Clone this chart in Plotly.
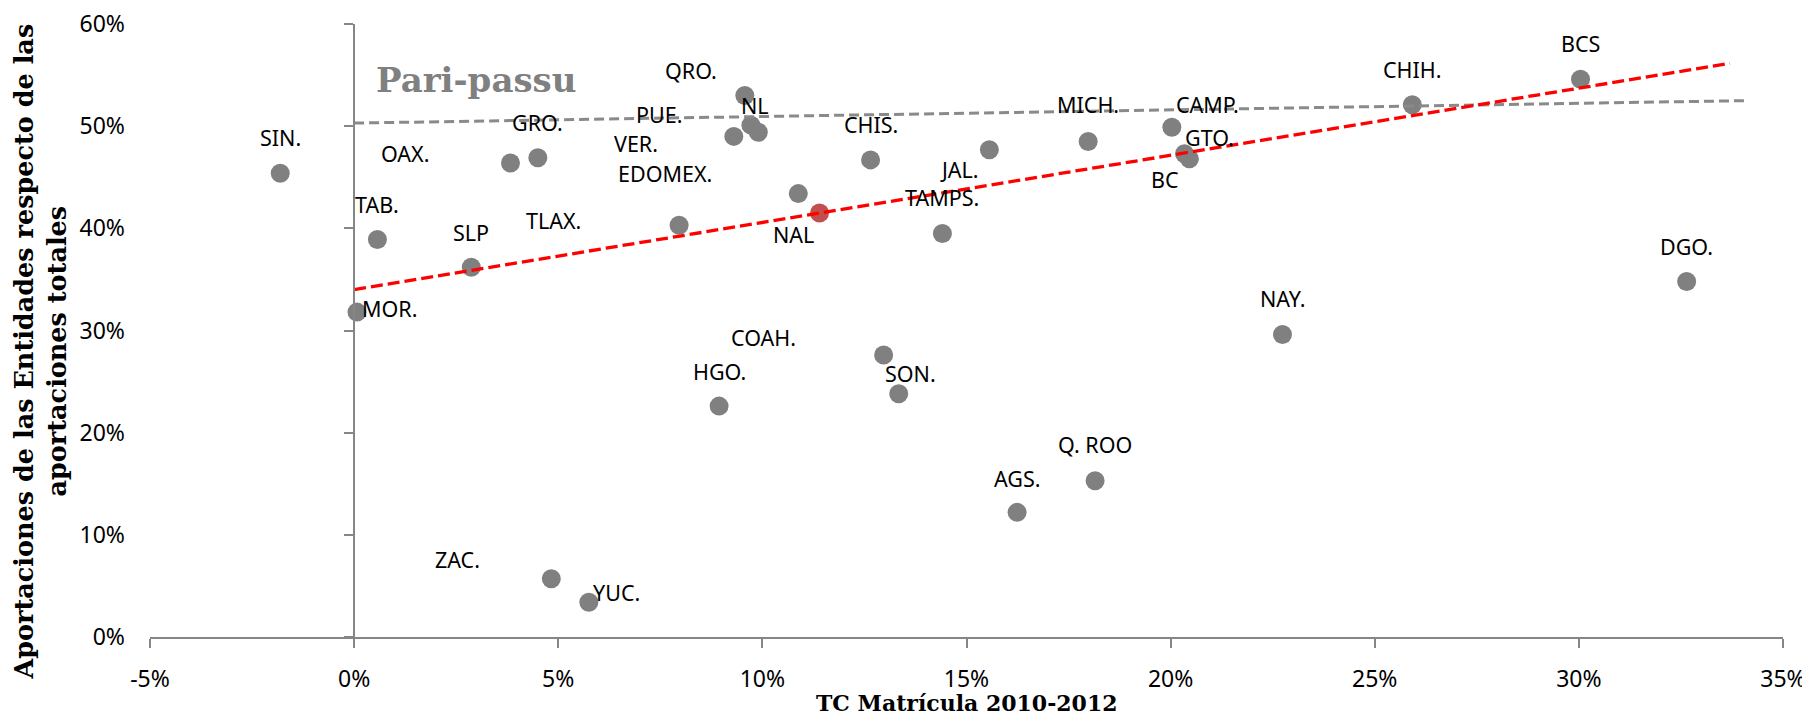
import plotly.graph_objects as go

# ---------------- data (values in %) ----------------
entidades = ["SIN.", "TAB.", "MOR.", "SLP", "OAX.", "GRO.", "ZAC.", "YUC.", "TLAX.", "HGO.",
             "PUE.", "QRO.", "NL", "VER.", "EDOMEX.", "CHIS.", "COAH.", "SON.", "TAMPS.", "JAL.",
             "AGS.", "MICH.", "Q. ROO", "CAMP.", "GTO.", "BC", "NAY.", "CHIH.", "BCS", "DGO."]
tc_matricula = [-1.81, 0.57, 0.07, 2.87, 3.83, 4.50, 4.83, 5.75, 7.96, 8.94,
                9.30, 9.57, 9.72, 9.90, 10.88, 12.65, 12.97, 13.34, 14.41, 15.56,
                16.24, 17.98, 18.15, 20.03, 20.34, 20.46, 22.74, 25.92, 30.04, 32.64]
aportaciones = [45.4, 38.9, 31.8, 36.2, 46.4, 46.9, 5.7, 3.4, 40.3, 22.6,
                49.0, 53.0, 50.1, 49.4, 43.4, 46.7, 27.6, 23.8, 39.5, 47.7,
                12.2, 48.5, 15.3, 49.9, 47.3, 46.8, 29.6, 52.1, 54.6, 34.8]

nacional_label = "NAL"
nacional_x = [11.40]
nacional_y = [41.5]

tendencia_x = [0.0, 33.7]
tendencia_y = [34.0, 56.15]

paripassu_x = [0.0, 34.1]
paripassu_y = [50.3, 52.5]

x_ticks = [-5, 0, 5, 10, 15, 20, 25, 30, 35]
y_ticks = [0, 10, 20, 30, 40, 50, 60]

# label offsets (pixels) relative to each point
label_shift = {
    "SIN.": (0, 36), "TAB.": (0, 35), "MOR.": (33, 4), "SLP": (0, 35), "OAX.": (-105, 9),
    "GRO.": (0, 35), "ZAC.": (-94, 19), "YUC.": (28, 10), "TLAX.": (-126, 5), "HGO.": (0, 35),
    "PUE.": (-75, 22), "QRO.": (-54, 25), "NL": (4, 20), "VER.": (-122, -11), "EDOMEX.": (-133, 20),
    "CHIS.": (0, 35), "COAH.": (-120, 18), "SON.": (12, 20), "TAMPS.": (0, 36), "JAL.": (-30, -20),
    "AGS.": (0, 34), "MICH.": (0, 37), "Q. ROO": (0, 36), "CAMP.": (36, 23), "GTO.": (25, 16),
    "BC": (-24, -21), "NAY.": (0, 36), "CHIH.": (0, 35), "BCS": (0, 36), "DGO.": (0, 35),
    "NAL": (-26, -21),
}

pct = lambda v: [a / 100 for a in v]

AXIS = "#868686"
LABEL_FONT = dict(family="Noto Sans", size=21.5, color="#000000")
TICK_FONT = dict(family="Noto Sans", size=23, color="#000000")

fig = go.Figure()

fig.add_trace(go.Scatter(
    x=pct(tc_matricula), y=pct(aportaciones), mode="markers",
    marker=dict(size=19, color="#808080", line=dict(width=0)),
    showlegend=False, hoverinfo="skip"))
fig.add_trace(go.Scatter(
    x=pct(nacional_x), y=pct(nacional_y), mode="markers",
    marker=dict(size=19, color="#c0504d", line=dict(width=0)),
    showlegend=False, hoverinfo="skip"))
fig.add_trace(go.Scatter(
    x=pct(paripassu_x), y=pct(paripassu_y), mode="lines",
    line=dict(color="#8a8a8a", width=3, dash="10px,5px"),
    showlegend=False, hoverinfo="skip"))
fig.add_trace(go.Scatter(
    x=pct(tendencia_x), y=pct(tendencia_y), mode="lines",
    line=dict(color="#ff0000", width=3.3, dash="12px,5px"),
    showlegend=False, hoverinfo="skip"))
# carrier trace for the vertical axis crossing at x = 0
fig.add_trace(go.Scatter(x=[None], y=[None], yaxis="y2", showlegend=False, hoverinfo="skip"))

annotations = []
for name, xv, yv in zip(entidades + [nacional_label],
                        tc_matricula + nacional_x, aportaciones + nacional_y):
    dx, dy = label_shift[name]
    annotations.append(dict(x=xv / 100, y=yv / 100, xref="x", yref="y", text=name,
                            showarrow=False, xanchor="center", yanchor="middle",
                            xshift=dx, yshift=dy, font=LABEL_FONT))

annotations.append(dict(x=0.0298, y=0.545, xref="x", yref="y", text="<b>Pari-passu</b>",
                        showarrow=False, xanchor="center", yanchor="middle",
                        font=dict(family="DejaVu Serif", size=34, color="#808080")))
annotations.append(dict(x=0.5, y=-0.108, xref="paper", yref="paper",
                        text="<b>TC Matrícula 2010-2012</b>", showarrow=False,
                        xanchor="center", yanchor="middle",
                        font=dict(family="DejaVu Serif", size=22, color="#000000")))
annotations.append(dict(x=-0.067, y=0.465, xref="paper", yref="paper", textangle=-90,
                        text="<b>Aportaciones de las Entidades respecto de las<br>aportaciones totales</b>",
                        showarrow=False, xanchor="center", yanchor="middle",
                        font=dict(family="DejaVu Serif", size=25.5, color="#000000")))

# page body adds an 8px offset; size the figure so the plot lands where the reference has it
fig.update_layout(
    width=1802, height=712,
    margin=dict(l=142, r=27, t=16, b=83, autoexpand=False),
    paper_bgcolor="#ffffff", plot_bgcolor="#ffffff",
    showlegend=False,
    xaxis=dict(range=[-0.05, 0.35], tickvals=pct(x_ticks),
               ticktext=[f"{v}%" for v in x_ticks], automargin=False,
               showgrid=False, zeroline=False, showline=True, linecolor=AXIS, linewidth=2,
               ticks="outside", ticklen=9, tickwidth=2, tickcolor=AXIS,
               ticklabelstandoff=11, ticklabeloverflow="allow", tickfont=TICK_FONT),
    yaxis=dict(range=[0, 0.6], tickvals=pct(y_ticks),
               ticktext=[f"{v}%" for v in y_ticks], automargin=False,
               showgrid=False, zeroline=False, showline=False, ticks="",
               ticklabelstandoff=24, ticklabeloverflow="allow", tickfont=TICK_FONT),
    yaxis2=dict(range=[0, 0.6], tickvals=pct(y_ticks), overlaying="y", anchor="free",
                position=0.125, side="left", showticklabels=False, showgrid=False,
                automargin=False,
                zeroline=False, showline=True, linecolor=AXIS, linewidth=2,
                ticks="outside", ticklen=9, tickwidth=2, tickcolor=AXIS),
    annotations=annotations,
)

fig.write_html("out.html")
